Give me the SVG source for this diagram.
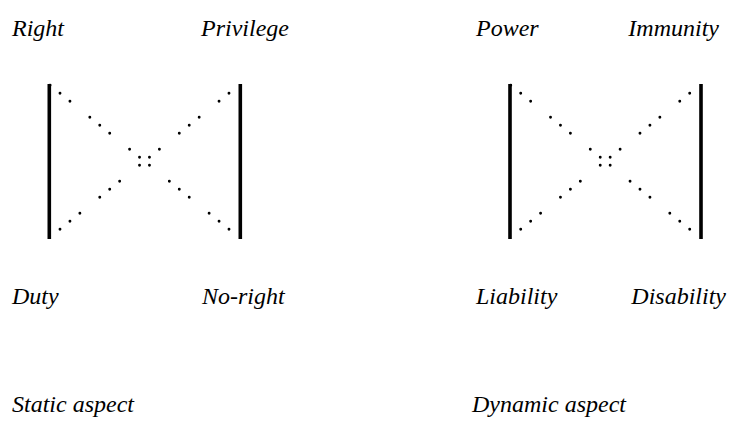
<svg xmlns="http://www.w3.org/2000/svg" width="731" height="427" viewBox="0 0 731 427">
<style>
  .lbl { font-family: 'Liberation Serif', 'Times New Roman', Times, serif; font-style: italic; font-weight: normal; font-size: 24px; fill: #000; }
  .bar { fill: #000; }
  .dots { fill: none; stroke: #000; stroke-width: 2.9; stroke-linecap: round; stroke-dasharray: 0 12.76 0 12.76 0 25.52; }
</style>
<rect width="731" height="427" fill="#fff"/>
<defs>
  <g id="panel">
    <rect class="bar" x="47.5" y="84" width="3.6" height="155"/>
    <rect class="bar" x="238.5" y="84" width="3.6" height="155"/>
    <path class="dots" d="M50.06 85.3 L229.5 229.7"/>
    <path class="dots" d="M60 229.3 L238.92 85.3"/>
  </g>
</defs>
<g id="connectors">
  <use href="#panel"/>
  <use href="#panel" transform="translate(460.7 0)"/>
</g>
<g id="node-right"><text class="lbl" font-family="Liberation Serif, serif" x="12" y="36">Right</text></g>
<g id="node-privilege"><text class="lbl" font-family="Liberation Serif, serif" x="201" y="36">Privilege</text></g>
<g id="node-duty"><text class="lbl" font-family="Liberation Serif, serif" x="12" y="304">Duty</text></g>
<g id="node-noright"><text class="lbl" font-family="Liberation Serif, serif" x="202" y="304">No-right</text></g>
<g id="node-power"><text class="lbl" font-family="Liberation Serif, serif" x="476" y="36">Power</text></g>
<g id="node-immunity"><text class="lbl" font-family="Liberation Serif, serif" x="719" y="36" text-anchor="end">Immunity</text></g>
<g id="node-liability"><text class="lbl" font-family="Liberation Serif, serif" x="476" y="304">Liability</text></g>
<g id="node-disability"><text class="lbl" font-family="Liberation Serif, serif" x="726" y="304" text-anchor="end">Disability</text></g>
<g id="label-static"><text class="lbl" font-family="Liberation Serif, serif" x="12" y="412">Static aspect</text></g>
<g id="label-dynamic"><text class="lbl" font-family="Liberation Serif, serif" x="472" y="412">Dynamic aspect</text></g>
</svg>
